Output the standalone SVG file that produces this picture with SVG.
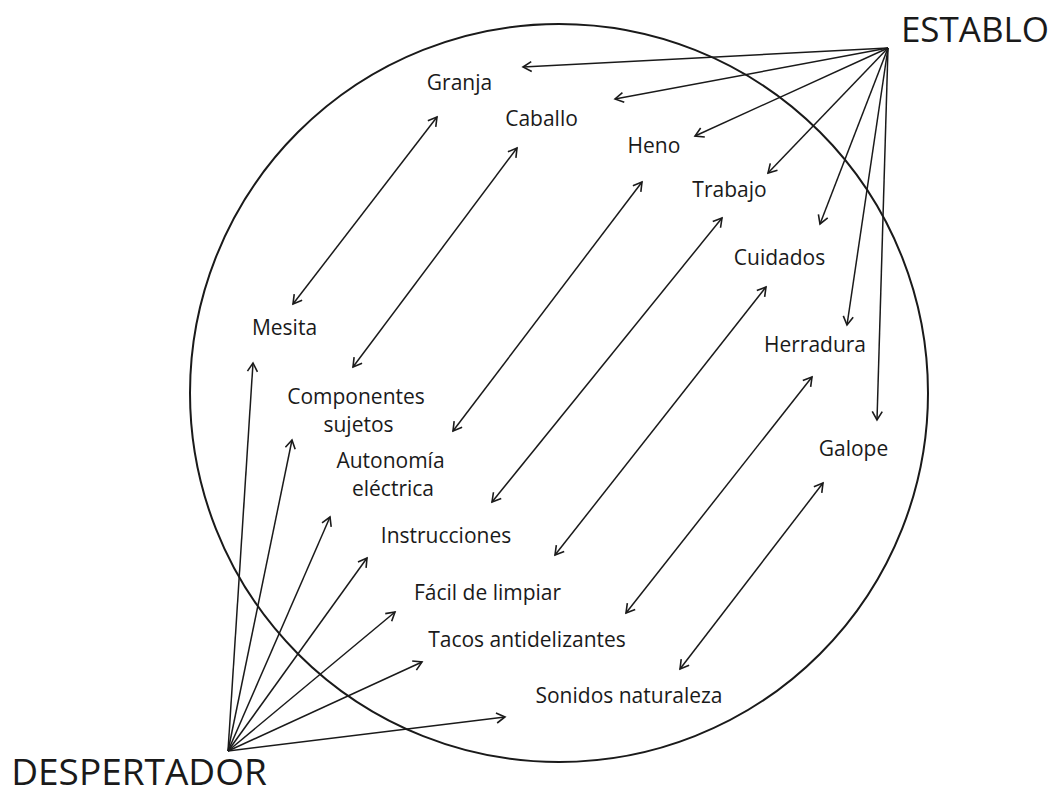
<svg xmlns="http://www.w3.org/2000/svg" width="1055" height="796" viewBox="0 0 1055 796">
  <style>
    .lbl { font-family: "Open Sans", "Liberation Sans", sans-serif; font-size: 21px; fill: #1a1a1a; text-anchor: middle; }
    .big { font-family: "Open Sans", "Liberation Sans", sans-serif; fill: #1a1a1a; text-anchor: middle; }
    .conn line { stroke: #1a1a1a; stroke-width: 1.5; fill: none; }
    .one { marker-end: url(#ah); }
    .two { marker-start: url(#ah); marker-end: url(#ah); }
  </style>
  <defs>
    <marker id="ah" viewBox="0 0 12 12" refX="10" refY="6" markerUnits="userSpaceOnUse" markerWidth="12" markerHeight="12" orient="auto-start-reverse">
      <path d="M1.5,1 L10,6 L1.5,11" fill="none" stroke="#1a1a1a" stroke-width="1.6" stroke-linejoin="miter"/>
    </marker>
  </defs>
  <rect width="1055" height="796" fill="#ffffff"/>

  <g id="circle">
    <circle cx="559" cy="393" r="369" fill="none" stroke="#1a1a1a" stroke-width="2"/>
  </g>

  <g id="connectors" class="conn">
    <!-- ESTABLO fan -->
    <line class="one" x1="888" y1="48" x2="523" y2="67"/>
    <line class="one" x1="888" y1="48" x2="615" y2="99"/>
    <line class="one" x1="888" y1="48" x2="695" y2="136"/>
    <line class="one" x1="888" y1="48" x2="768" y2="173"/>
    <line class="one" x1="888" y1="48" x2="820" y2="224"/>
    <line class="one" x1="888" y1="48" x2="847" y2="325"/>
    <line class="one" x1="888" y1="48" x2="877" y2="420"/>
    <!-- DESPERTADOR fan -->
    <line class="one" x1="228" y1="751" x2="253" y2="363"/>
    <line class="one" x1="228" y1="751" x2="292" y2="440"/>
    <line class="one" x1="228" y1="751" x2="330" y2="517"/>
    <line class="one" x1="228" y1="751" x2="367" y2="558"/>
    <line class="one" x1="228" y1="751" x2="395" y2="612"/>
    <line class="one" x1="228" y1="751" x2="422" y2="662"/>
    <line class="one" x1="228" y1="751" x2="505" y2="717"/>
    <!-- double arrows -->
    <line class="two" x1="437" y1="117" x2="293" y2="304"/>
    <line class="two" x1="517" y1="148" x2="353" y2="367"/>
    <line class="two" x1="642" y1="182" x2="453" y2="431"/>
    <line class="two" x1="722" y1="218" x2="492" y2="502"/>
    <line class="two" x1="766" y1="287" x2="555" y2="555"/>
    <line class="two" x1="812" y1="377" x2="626" y2="613"/>
    <line class="two" x1="823" y1="483" x2="680" y2="669"/>
  </g>

  <g id="establo"><text class="big" x="975" y="42" font-size="35">ESTABLO</text></g>
  <g id="despertador"><text class="big" x="139" y="785" font-size="37">DESPERTADOR</text></g>

  <g id="granja"><text class="lbl" x="459.5" y="90">Granja</text></g>
  <g id="caballo"><text class="lbl" x="541.5" y="126">Caballo</text></g>
  <g id="heno"><text class="lbl" x="654" y="153">Heno</text></g>
  <g id="trabajo"><text class="lbl" x="729.5" y="197">Trabajo</text></g>
  <g id="cuidados"><text class="lbl" x="779.5" y="265">Cuidados</text></g>
  <g id="herradura"><text class="lbl" x="815" y="352">Herradura</text></g>
  <g id="galope"><text class="lbl" x="853.5" y="456">Galope</text></g>

  <g id="mesita"><text class="lbl" x="284.5" y="335">Mesita</text></g>
  <g id="componentes"><text class="lbl" x="356" y="404">Componentes</text><text class="lbl" x="358.5" y="432">sujetos</text></g>
  <g id="autonomia"><text class="lbl" x="390.5" y="468">Autonomía</text><text class="lbl" x="393" y="496">eléctrica</text></g>
  <g id="instrucciones"><text class="lbl" x="446" y="543">Instrucciones</text></g>
  <g id="facil"><text class="lbl" x="487.5" y="600">Fácil de limpiar</text></g>
  <g id="tacos"><text class="lbl" x="527" y="647">Tacos antidelizantes</text></g>
  <g id="sonidos"><text class="lbl" x="629" y="703">Sonidos naturaleza</text></g>
</svg>
